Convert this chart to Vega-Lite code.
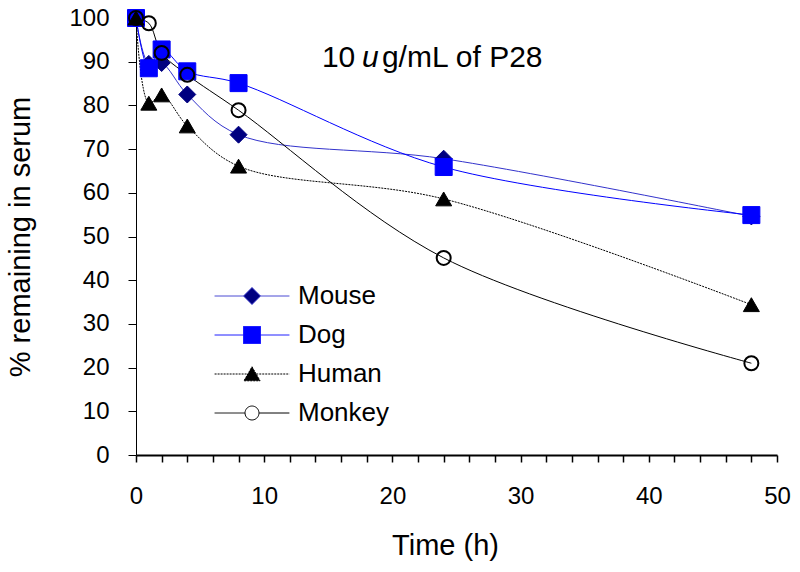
{
  "$schema": "https://vega.github.io/schema/vega-lite/v6.json",
  "width": 641,
  "height": 437,
  "autosize": {"type": "none"},
  "padding": {"left": 136, "top": 18, "right": 23, "bottom": 117},
  "background": "white",
  "config": {
    "view": {"stroke": null},
    "font": "Liberation Sans",
    "axis": {"grid": false, "domainColor": "black", "tickColor": "black", "labelColor": "black", "titleColor": "black", "labelFont": "Liberation Sans", "titleFont": "Liberation Sans", "titleFontWeight": "normal"},
    "legend": {"labelFont": "Liberation Sans", "labelFontSize": 26, "labelColor": "black"}
  },
  "data": {
    "values": [
      {"species": "Mouse", "time": 0, "pct": 100},
      {"species": "Mouse", "time": 1, "pct": 89.5},
      {"species": "Mouse", "time": 2, "pct": 89.7},
      {"species": "Mouse", "time": 4, "pct": 82.5},
      {"species": "Mouse", "time": 8, "pct": 73.3},
      {"species": "Mouse", "time": 24, "pct": 67.8},
      {"species": "Mouse", "time": 48, "pct": 54.6},
      {"species": "Dog", "time": 0, "pct": 100},
      {"species": "Dog", "time": 1, "pct": 88.5},
      {"species": "Dog", "time": 2, "pct": 92.8},
      {"species": "Dog", "time": 4, "pct": 87.8},
      {"species": "Dog", "time": 8, "pct": 85.1},
      {"species": "Dog", "time": 24, "pct": 65.9},
      {"species": "Dog", "time": 48, "pct": 54.9},
      {"species": "Human", "time": 0, "pct": 100},
      {"species": "Human", "time": 1, "pct": 80.5},
      {"species": "Human", "time": 2, "pct": 82.4},
      {"species": "Human", "time": 4, "pct": 75.3},
      {"species": "Human", "time": 8, "pct": 66.1},
      {"species": "Human", "time": 24, "pct": 58.6},
      {"species": "Human", "time": 48, "pct": 34.4},
      {"species": "Monkey", "time": 0, "pct": 100},
      {"species": "Monkey", "time": 1, "pct": 98.8},
      {"species": "Monkey", "time": 2, "pct": 92},
      {"species": "Monkey", "time": 4, "pct": 87},
      {"species": "Monkey", "time": 8, "pct": 78.9},
      {"species": "Monkey", "time": 24, "pct": 45.1},
      {"species": "Monkey", "time": 48, "pct": 21}
    ]
  },
  "encoding": {
    "x": {
      "field": "time", "type": "quantitative", "title": "Time (h)",
      "scale": {"domain": [0, 50], "nice": false, "zero": false},
      "axis": {
        "values": [0, 2, 4, 6, 8, 10, 12, 14, 16, 18, 20, 22, 24, 26, 28, 30, 32, 34, 36, 38, 40, 42, 44, 46, 48, 50],
        "labelExpr": "datum.value % 10 === 0 ? datum.label : ''",
        "labelFontSize": 24, "titleFontSize": 29, "tickSize": 7, "tickWidth": 1.5, "domainWidth": 2,
        "labelPadding": 22, "titlePadding": 23, "titleX": 309, "labelFlush": false, "labelOverlap": false
      }
    },
    "y": {
      "field": "pct", "type": "quantitative", "title": "% remaining in serum",
      "scale": {"domain": [0, 100], "nice": false},
      "axis": {
        "values": [0, 10, 20, 30, 40, 50, 60, 70, 80, 90, 100],
        "labelFontSize": 24, "titleFontSize": 29, "tickSize": 8, "tickWidth": 1, "domainWidth": 1,
        "labelPadding": 19, "titlePadding": 33, "labelFlush": false, "labelOverlap": false
      }
    }
  },
  "layer": [
    {
      "transform": [{"filter": "datum.species === 'Mouse'"}],
      "mark": {"type": "line", "interpolate": "catmull-rom", "strokeWidth": 1, "stroke": "#3333CC"}
    },
    {
      "transform": [{"filter": "datum.species === 'Dog'"}],
      "mark": {"type": "line", "interpolate": "catmull-rom", "strokeWidth": 1, "stroke": "#0000FF"}
    },
    {
      "transform": [{"filter": "datum.species === 'Human'"}],
      "mark": {"type": "line", "interpolate": "catmull-rom", "strokeWidth": 1, "stroke": "#000000", "strokeDash": [2, 1]}
    },
    {
      "transform": [{"filter": "datum.species === 'Monkey'"}],
      "mark": {"type": "line", "interpolate": "catmull-rom", "strokeWidth": 1, "stroke": "#000000"}
    },
    {
      "transform": [{"filter": "datum.species === 'Mouse'"}],
      "mark": {"type": "point", "shape": "diamond", "size": 289, "filled": true, "fill": "#000080", "stroke": "#000080", "strokeWidth": 1, "opacity": 1}
    },
    {
      "transform": [{"filter": "datum.species === 'Dog'"}],
      "mark": {"type": "point", "shape": "square", "size": 289, "filled": true, "fill": "#0000FF", "stroke": "#0000FF", "strokeWidth": 1, "opacity": 1}
    },
    {
      "transform": [{"filter": "datum.species === 'Human'"}],
      "mark": {"type": "point", "shape": "triangle-up", "size": 256, "filled": true, "fill": "#000000", "stroke": "#000000", "strokeWidth": 1, "opacity": 1}
    },
    {
      "transform": [{"filter": "datum.species === 'Monkey'"}],
      "mark": {"type": "point", "shape": "circle", "size": 196, "filled": false, "stroke": "#000000", "strokeWidth": 2, "opacity": 1}
    },
    {
      "transform": [{"filter": "datum.species === 'Mouse' && datum.time === 0"}],
      "mark": {"type": "text", "text": "10", "align": "left", "baseline": "alphabetic", "fontSize": 30, "font": "Liberation Sans", "color": "black"},
      "encoding": {"x": {"datum": 14.5, "type": "quantitative"}, "y": {"datum": 88.8, "type": "quantitative"}}
    },
    {
      "transform": [{"filter": "datum.species === 'Mouse' && datum.time === 0"}],
      "mark": {"type": "text", "text": "u", "align": "left", "baseline": "alphabetic", "fontSize": 30, "fontStyle": "italic", "font": "Liberation Sans", "color": "black", "dx": 40},
      "encoding": {"x": {"datum": 14.5, "type": "quantitative"}, "y": {"datum": 88.8, "type": "quantitative"}}
    },
    {
      "transform": [{"filter": "datum.species === 'Mouse' && datum.time === 0"}],
      "mark": {"type": "text", "text": "g/mL of P28", "align": "left", "baseline": "alphabetic", "fontSize": 30, "font": "Liberation Sans", "color": "black", "dx": 60},
      "encoding": {"x": {"datum": 14.5, "type": "quantitative"}, "y": {"datum": 88.8, "type": "quantitative"}}
    },
    {
      "transform": [{"filter": "datum.time === 0"}],
      "mark": {"type": "point", "opacity": 0, "strokeWidth": 1},
      "encoding": {
        "shape": {"field": "species", "type": "nominal",
          "scale": {"domain": ["Mouse", "Dog", "Human", "Monkey"], "range": [
            "M-4.4,0H-1M1,0H4.4M-1,0L0,-1L1,0L0,1Z",
            "M-4.4,0H-1M1,0H4.4M-1,-1H1V1H-1Z",
            "M-4.4,0H-0.5M0.5,0H4.4M0,-0.85L0.95,0.8L-0.95,0.8Z",
            "M-4.4,0H-0.82M0.82,0H4.4M-0.82,0A0.82,0.82 0 1,0 0.82,0A0.82,0.82 0 1,0 -0.82,0Z"
          ]},
          "legend": {"title": null, "orient": "none", "legendX": 103, "legendY": 265, "padding": 0,
            "symbolSize": 289, "symbolOpacity": 1, "symbolStrokeWidth": 1, "labelOffset": 33, "rowPadding": 13}
        },
        "fill": {"field": "species", "type": "nominal",
          "scale": {"domain": ["Mouse", "Dog", "Human", "Monkey"], "range": ["#000080", "#0000FF", "#000000", "transparent"]},
          "legend": {"title": null, "orient": "none", "legendX": 103, "legendY": 265, "padding": 0,
            "symbolSize": 289, "symbolOpacity": 1, "symbolStrokeWidth": 1, "labelOffset": 33, "rowPadding": 13}
        },
        "stroke": {"field": "species", "type": "nominal",
          "scale": {"domain": ["Mouse", "Dog", "Human", "Monkey"], "range": ["#3333CC", "#0000FF", "#000000", "#000000"]},
          "legend": {"title": null, "orient": "none", "legendX": 103, "legendY": 265, "padding": 0,
            "symbolSize": 289, "symbolOpacity": 1, "symbolStrokeWidth": 1, "labelOffset": 33, "rowPadding": 13}
        },
        "strokeDash": {"field": "species", "type": "nominal",
          "scale": {"domain": ["Mouse", "Dog", "Human", "Monkey"], "range": [[1, 0], [1, 0], [2, 1], [1, 0]]},
          "legend": {"title": null, "orient": "none", "legendX": 103, "legendY": 265, "padding": 0,
            "symbolSize": 289, "symbolOpacity": 1, "symbolStrokeWidth": 1, "labelOffset": 33, "rowPadding": 13}
        }
      }
    }
  ]
}
